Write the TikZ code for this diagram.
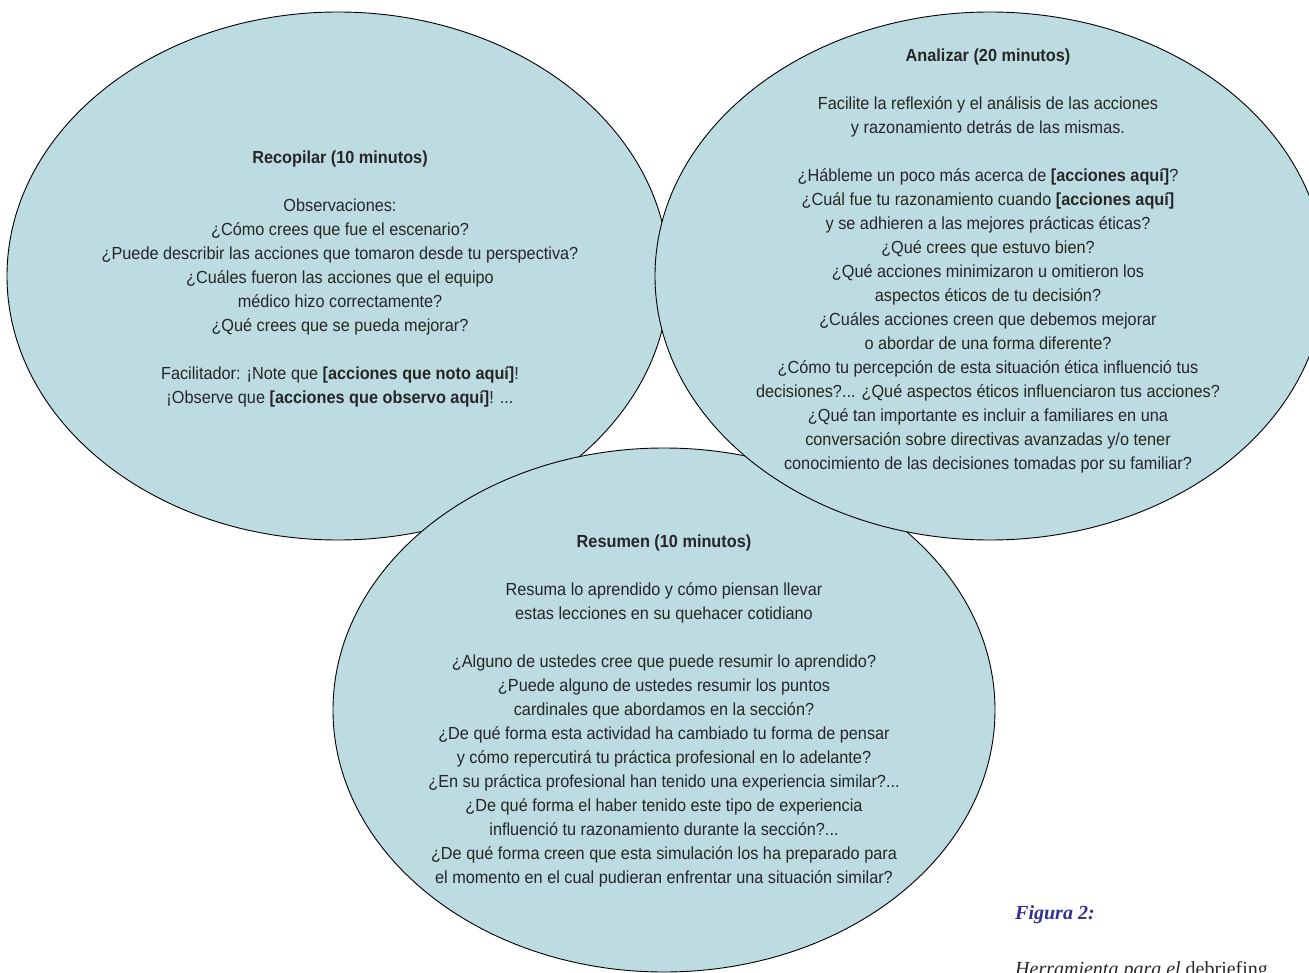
\documentclass[tikz,border=0pt]{standalone}
\usepackage{fontspec}
\setmainfont{Liberation Sans}[FakeStretch=0.93]
\newfontfamily\capfont{Liberation Serif}
\definecolor{bub}{HTML}{BDDCE2}
\definecolor{txt}{HTML}{262626}
\definecolor{capblue}{HTML}{2E3192}
\tikzset{
  bubble/.style={fill=bub, draw=black, line width=0.9pt},
  body/.style={align=center, text=txt, font=\fontsize{17.5}{24}\selectfont, inner sep=0pt},
  captext/.style={anchor=base west, inner sep=0pt, font=\capfont\fontsize{20}{24}\selectfont}
}
\begin{document}
\begin{tikzpicture}[x=1pt,y=-1pt]
\useasboundingbox (0,0) rectangle (1309,973);
\begin{scope}
\clip (0,0) rectangle (1309,973);
\path[bubble] (338,276) ellipse [x radius=331, y radius=264];
\path[bubble] (664,710) ellipse [x radius=331, y radius=262];
\path[bubble] (990,276) ellipse [x radius=335, y radius=264];

\node[body] (recopilar) at (340,278.5) {\textbf{Recopilar (10 minutos)}\\[24pt]
Observaciones:\\
¿Cómo crees que fue el escenario?\\
¿Puede describir las acciones que tomaron desde tu perspectiva?\\
¿Cuáles fueron las acciones que el equipo\\
médico hizo correctamente?\\
¿Qué crees que se pueda mejorar?\\[24pt]
Facilitador: ¡Note que \textbf{[acciones que noto aquí]}!\\
¡Observe que \textbf{[acciones que observo aquí]}! ...};

\node[body] (analizar) at (988,260.5) {\textbf{Analizar (20 minutos)}\\[24pt]
Facilite la reflexión y el análisis de las acciones\\
y razonamiento detrás de las mismas.\\[24pt]
¿Hábleme un poco más acerca de \textbf{[acciones aquí]}?\\
¿Cuál fue tu razonamiento cuando \textbf{[acciones aquí]}\\
y se adhieren a las mejores prácticas éticas?\\
¿Qué crees que estuvo bien?\\
¿Qué acciones minimizaron u omitieron los\\
aspectos éticos de tu decisión?\\
¿Cuáles acciones creen que debemos mejorar\\
o abordar de una forma diferente?\\
¿Cómo tu percepción de esta situación ética influenció tus\\
decisiones?... ¿Qué aspectos éticos influenciaron tus acciones?\\
¿Qué tan importante es incluir a familiares en una\\
conversación sobre directivas avanzadas y/o tener\\
conocimiento de las decisiones tomadas por su familiar?};

\node[body] (resumen) at (664,710.5) {\textbf{Resumen (10 minutos)}\\[24pt]
Resuma lo aprendido y cómo piensan llevar\\
estas lecciones en su quehacer cotidiano\\[24pt]
¿Alguno de ustedes cree que puede resumir lo aprendido?\\
¿Puede alguno de ustedes resumir los puntos\\
cardinales que abordamos en la sección?\\
¿De qué forma esta actividad ha cambiado tu forma de pensar\\
y cómo repercutirá tu práctica profesional en lo adelante?\\
¿En su práctica profesional han tenido una experiencia similar?...\\
¿De qué forma el haber tenido este tipo de experiencia\\
influenció tu razonamiento durante la sección?...\\
¿De qué forma creen que esta simulación los ha preparado para\\
el momento en el cual pudieran enfrentar una situación similar?};

\node[captext, text=capblue] (figura) at (1015,919) {\textbf{\textit{Figura 2:}}};
\node[captext, text=txt] (herramienta) at (1015,975) {\textit{Herramienta para el} debriefing};
\end{scope}
\end{tikzpicture}
\end{document}
